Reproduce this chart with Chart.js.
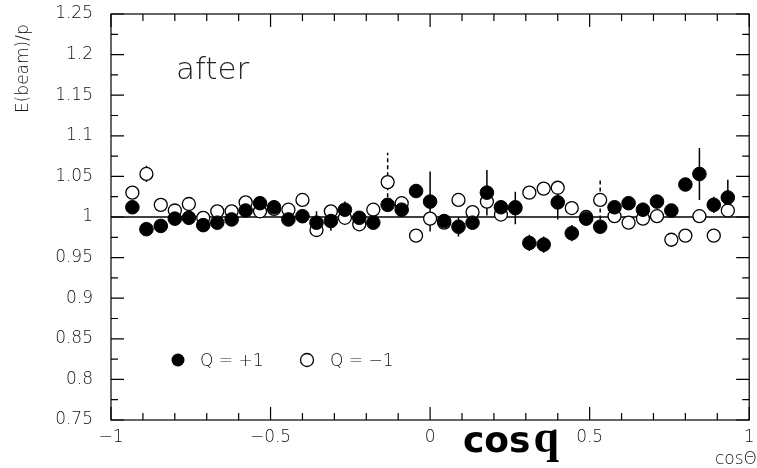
<!DOCTYPE html>
<html>
<head>
<meta charset="utf-8">
<script src="https://cdn.jsdelivr.net/npm/chart.js@4/dist/chart.umd.min.js"></script>
<style>
  html, body { margin: 0; padding: 0; background: #fff; }
  #wrap { width: 757px; height: 468px; }
</style>
</head>
<body>
<div id="wrap"><canvas id="chart"></canvas></div>
<script>
// bin centres in cos(theta)
const cosBins = [-0.933, -0.889, -0.844, -0.8, -0.756, -0.711, -0.667, -0.622, -0.578, -0.533,
  -0.489, -0.444, -0.4, -0.356, -0.311, -0.267, -0.222, -0.178, -0.133, -0.089, -0.044,
  0, 0.044, 0.089, 0.133, 0.178, 0.222, 0.267, 0.311, 0.356, 0.4, 0.444, 0.489, 0.533,
  0.578, 0.622, 0.667, 0.711, 0.756, 0.8, 0.844, 0.889, 0.933];

// Q = +1 (filled)
const qPlus = [1.012, 0.985, 0.989, 0.998, 0.999, 0.990, 0.993, 0.997, 1.008, 1.017,
  1.012, 0.997, 1.001, 0.993, 0.995, 1.009, 0.999, 0.993, 1.015, 1.009, 1.032,
  1.019, 0.995, 0.988, 0.993, 1.030, 1.012, 1.011, 0.968, 0.966, 1.018, 0.980, 0.998,
  0.988, 1.012, 1.017, 1.009, 1.019, 1.008, 1.040, 1.053, 1.015, 1.024];
const qPlusErr = [0.007, 0.006, 0.005, 0.005, 0.005, 0.005, 0.005, 0.005, 0.006, 0.005,
  0.005, 0.005, 0.006, 0.014, 0.012, 0.010, 0.005, 0.005, 0.006, 0.005, 0.006,
  0.037, 0.008, 0.012, 0.006, 0.028, 0.007, 0.020, 0.010, 0.010, 0.021, 0.010, 0.006,
  0.006, 0.006, 0.005, 0.005, 0.006, 0.005, 0.007, 0.032, 0.010, 0.022];

// Q = -1 (open)
const qMinus = [1.030, 1.053, 1.015, 1.008, 1.016, 0.999, 1.007, 1.007, 1.018, 1.007,
  1.010, 1.009, 1.021, 0.984, 1.007, 0.999, 0.991, 1.009, 1.043, 1.017, 0.977,
  0.998, 0.993, 1.021, 1.006, 1.019, 1.003, 1.012, 1.030, 1.035, 1.036, 1.011, 1.000,
  1.021, 1.001, 0.993, 0.998, 1.001, 0.972, 0.977, 1.001, 0.977, 1.008];
const qMinusErr = [0.007, 0.010, 0.005, 0.005, 0.006, 0.005, 0.005, 0.005, 0.006, 0.005,
  0.005, 0.005, 0.006, 0.007, 0.006, 0.005, 0.005, 0.006, 0.036, 0.006, 0.005,
  0.006, 0.005, 0.006, 0.006, 0.007, 0.005, 0.008, 0.005, 0.005, 0.005, 0.005, 0.005,
  0.024, 0.005, 0.005, 0.005, 0.005, 0.005, 0.005, 0.006, 0.006, 0.008];

const refLine = [{ x: -1, y: 1 }, { x: 1, y: 1 }];

const yTicks = [0.75, 0.8, 0.85, 0.9, 0.95, 1, 1.05, 1.1, 1.15, 1.2, 1.25];
const yTickLabels = ['0.75', '0.8', '0.85', '0.9', '0.95', '1', '1.05', '1.1', '1.15', '1.2', '1.25'];
const xTicks = [-1, -0.5, 0, 0.5, 1];
const xTickLabels = ['\u22121', '\u22120.5', '0', '0.5', '1'];

const labelFont = { family: 'DejaVu Sans', size: 17, weight: '200' };
const textColor = '#111';

function toPoints(vals) {
  return cosBins.map((x, i) => ({ x: x, y: vals[i] }));
}

// frame with inward ticks on all four sides
const framePlugin = {
  id: 'frame',
  beforeDatasetsDraw(chart) {
    const { ctx, chartArea: a, scales: { x, y } } = chart;
    ctx.save();
    ctx.strokeStyle = '#000';
    ctx.lineWidth = 1.2;
    ctx.strokeRect(a.left, a.top, a.right - a.left, a.bottom - a.top);
    ctx.beginPath();
    for (let i = 0; i < yTicks.length; i++) {
      const p = y.getPixelForValue(yTicks[i]);
      ctx.moveTo(a.left, p); ctx.lineTo(a.left + 13, p);
      ctx.moveTo(a.right, p); ctx.lineTo(a.right - 13, p);
      if (i < yTicks.length - 1) {
        const m = y.getPixelForValue((yTicks[i] + yTicks[i + 1]) / 2);
        ctx.moveTo(a.left, m); ctx.lineTo(a.left + 7, m);
        ctx.moveTo(a.right, m); ctx.lineTo(a.right - 7, m);
      }
    }
    for (let i = 0; i < xTicks.length; i++) {
      const p = x.getPixelForValue(xTicks[i]);
      ctx.moveTo(p, a.bottom); ctx.lineTo(p, a.bottom - 13);
      ctx.moveTo(p, a.top); ctx.lineTo(p, a.top + 13);
      if (i < xTicks.length - 1) {
        for (let k = 1; k < 5; k++) {
          const m = x.getPixelForValue(xTicks[i] + (xTicks[i + 1] - xTicks[i]) * k / 5);
          ctx.moveTo(m, a.bottom); ctx.lineTo(m, a.bottom - 7);
          ctx.moveTo(m, a.top); ctx.lineTo(m, a.top + 7);
        }
      }
    }
    ctx.stroke();

    // error bars, solid for Q=+1, dashed for Q=-1
    const bars = [[qPlus, qPlusErr, []], [qMinus, qMinusErr, [4, 3]]];
    bars.forEach(([vals, errs, dash]) => {
      ctx.setLineDash(dash);
      ctx.lineWidth = 1.5;
      ctx.beginPath();
      cosBins.forEach((cx, i) => {
        const px = x.getPixelForValue(cx);
        ctx.moveTo(px, y.getPixelForValue(vals[i] - errs[i]));
        ctx.lineTo(px, y.getPixelForValue(vals[i] + errs[i]));
      });
      ctx.stroke();
    });
    ctx.restore();
  },
  afterDraw(chart) {
    const { ctx } = chart;
    ctx.save();
    ctx.fillStyle = '#222';
    ctx.font = '200 31px "DejaVu Sans"';
    ctx.fillText('after', 176, 79);

    ctx.fillStyle = textColor;
    ctx.font = '200 17px "DejaVu Sans"';
    ctx.fillText('Q = +1', 200, 366);
    ctx.fillText('Q = \u22121', 330, 366);
    ctx.fillStyle = '#000';
    ctx.beginPath(); ctx.arc(178, 360, 6.5, 0, Math.PI * 2); ctx.fill();
    ctx.strokeStyle = '#000'; ctx.lineWidth = 1.3;
    ctx.beginPath(); ctx.arc(307, 360, 6.5, 0, Math.PI * 2); ctx.stroke();

    ctx.fillStyle = textColor;
    ctx.font = '200 17px "DejaVu Sans"';
    ctx.textAlign = 'right';
    ctx.fillText('cos\u0398', 757, 464);

    ctx.textAlign = 'left';
    ctx.fillStyle = '#000';
    ctx.font = 'bold 36px "DejaVu Sans"';
    ctx.fillText('cos', 463, 452);
    const w = ctx.measureText('cos').width;
    ctx.font = 'bold 46px "Liberation Serif"';
    ctx.fillText('q', 463 + w + 3, 452);

    ctx.translate(28, 113);
    ctx.rotate(-Math.PI / 2);
    ctx.fillStyle = textColor;
    ctx.font = '200 17px "DejaVu Sans"';
    ctx.textAlign = 'left';
    ctx.fillText('E(beam)/p', 0, 0);
    ctx.restore();
  }
};

new Chart(document.getElementById('chart'), {
  type: 'scatter',
  data: {
    datasets: [
      {
        label: 'Q = +1',
        data: toPoints(qPlus),
        pointRadius: 6.8,
        pointHoverRadius: 6.8,
        backgroundColor: '#000',
        borderColor: '#000',
        borderWidth: 1
      },
      {
        label: 'Q = -1',
        data: toPoints(qMinus),
        pointRadius: 6.5,
        pointHoverRadius: 6.5,
        backgroundColor: '#fff',
        borderColor: '#000',
        borderWidth: 1.3
      },
      {
        label: 'ref',
        type: 'line',
        data: refLine,
        borderColor: '#000',
        borderWidth: 1.5,
        pointRadius: 0,
        fill: false
      }
    ]
  },
  options: {
    responsive: true,
    maintainAspectRatio: false,
    animation: false,
    events: [],
    layout: { padding: { top: 14, right: 1, left: 0, bottom: 0 } },
    plugins: { legend: { display: false }, tooltip: { enabled: false } },
    scales: {
      x: {
        type: 'linear',
        min: -1,
        max: 1,
        afterBuildTicks: s => { s.ticks = xTicks.map(v => ({ value: v })); },
        afterFit: s => { s.height = 48; s.paddingLeft = 0; s.paddingRight = 0; },
        grid: { display: false, drawTicks: false },
        border: { display: false },
        ticks: {
          padding: 7,
          color: textColor,
          font: labelFont,
          maxRotation: 0,
          callback: v => xTickLabels[xTicks.indexOf(v)]
        }
      },
      y: {
        type: 'linear',
        min: 0.75,
        max: 1.25,
        afterBuildTicks: s => { s.ticks = yTicks.map(v => ({ value: v })); },
        afterFit: s => { s.width = 111; s.paddingTop = 0; s.paddingBottom = 0; },
        grid: { display: false, drawTicks: false },
        border: { display: false },
        ticks: {
          padding: 18,
          color: textColor,
          font: labelFont,
          callback: v => yTickLabels[yTicks.indexOf(v)]
        }
      }
    }
  },
  plugins: [framePlugin]
});
</script>
</body>
</html>
